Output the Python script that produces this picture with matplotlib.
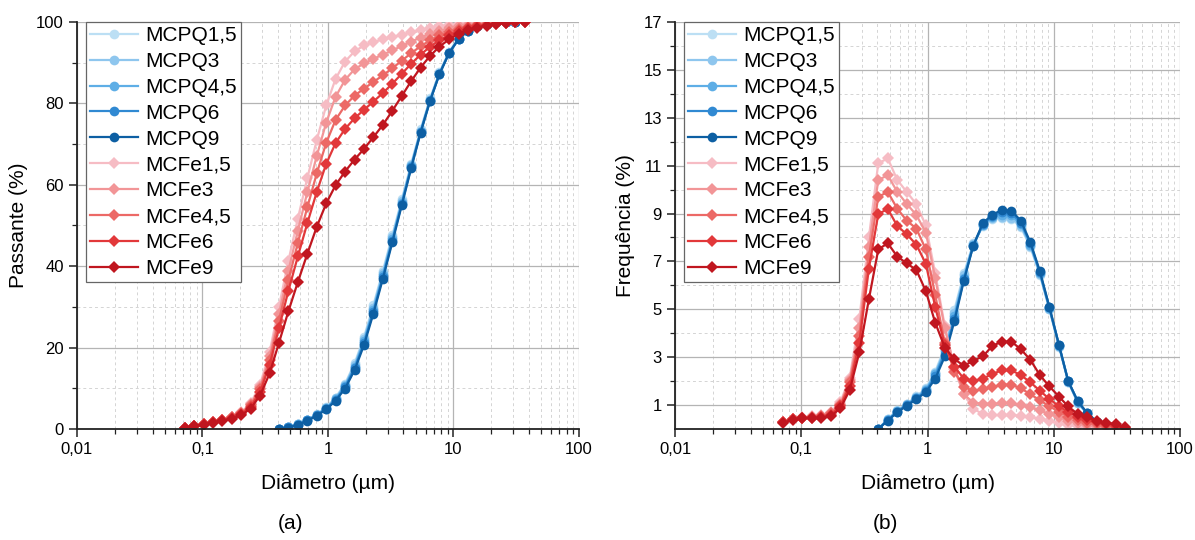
import numpy as np
import matplotlib
matplotlib.use("Agg")
import matplotlib.pyplot as plt
from matplotlib.ticker import FixedLocator, FuncFormatter, LogLocator, NullFormatter, MultipleLocator

plt.rcParams['font.family'] = ['Liberation Sans', 'DejaVu Sans']

# particle diameter classes (um)
diam = [0.072, 0.0856, 0.102, 0.121, 0.144, 0.171, 0.204, 0.242, 0.288, 0.343,
        0.407, 0.484, 0.576, 0.685, 0.815, 0.969, 1.15, 1.37, 1.63, 1.94,
        2.30, 2.74, 3.26, 3.88, 4.61, 5.48, 6.52, 7.75, 9.22, 11.0,
        13.0, 15.5, 18.4, 21.9, 26.1, 31.0, 36.9]
diam_q = diam[10:36]

labels_q = ['MCPQ1,5', 'MCPQ3', 'MCPQ4,5', 'MCPQ6', 'MCPQ9']
labels_fe = ['MCFe1,5', 'MCFe3', 'MCFe4,5', 'MCFe6', 'MCFe9']
colors_q = ['#bcdff4', '#8ec6ee', '#5eaee6', '#3089d2', '#0d5fa3']
colors_fe = ['#f6bcc4', '#f29597', '#ec6966', '#e2383a', '#c0161f']

# frequency (%) - quartz series
freq_q = [
    [0.0, 0.42, 0.78, 1.06, 1.36, 1.7, 2.4, 3.42, 4.98, 6.5, 7.75, 8.48, 8.75, 8.8, 8.78, 8.42, 7.6, 6.44, 5.0, 3.44, 1.96, 1.08, 0.62, 0.26, 0.0, 0.0],
    [0.0, 0.4, 0.76, 1.04, 1.33, 1.66, 2.33, 3.33, 4.85, 6.42, 7.72, 8.5, 8.8, 8.85, 8.82, 8.48, 7.65, 6.48, 5.02, 3.46, 1.98, 1.1, 0.64, 0.27, 0.1, 0.0],
    [0.0, 0.38, 0.74, 1.02, 1.3, 1.62, 2.28, 3.25, 4.72, 6.32, 7.68, 8.5, 8.85, 8.95, 8.92, 8.55, 7.7, 6.52, 5.05, 3.48, 2.0, 1.12, 0.65, 0.28, 0.1, 0.0],
    [0.0, 0.37, 0.72, 1.0, 1.28, 1.58, 2.2, 3.15, 4.6, 6.25, 7.65, 8.55, 8.9, 9.05, 9.02, 8.62, 7.75, 6.55, 5.08, 3.5, 2.0, 1.15, 0.65, 0.28, 0.1, 0.0],
    [0.0, 0.35, 0.7, 0.97, 1.25, 1.53, 2.1, 3.03, 4.5, 6.2, 7.65, 8.6, 8.95, 9.15, 9.12, 8.7, 7.8, 6.6, 5.1, 3.5, 2.0, 1.15, 0.67, 0.3, 0.08, 0.0],
]

# passing (%) - quartz series
pass_q = [
    [0, 0.42, 1.20, 2.26, 3.62, 5.32, 7.72, 11.14, 16.12, 22.62, 30.37, 38.85, 47.60, 56.40, 65.18, 73.60, 81.20, 87.64, 92.64, 96.08, 98.04, 99.12, 99.74, 100.0, 100.0, 100.0],
    [0, 0.40, 1.16, 2.20, 3.53, 5.19, 7.52, 10.85, 15.70, 22.12, 29.84, 38.34, 47.14, 55.99, 64.81, 73.29, 80.94, 87.42, 92.44, 95.90, 97.88, 98.98, 99.62, 99.89, 99.99, 100.0],
    [0, 0.38, 1.12, 2.14, 3.44, 5.06, 7.34, 10.59, 15.31, 21.63, 29.31, 37.81, 46.66, 55.61, 64.53, 73.08, 80.78, 87.30, 92.35, 95.83, 97.83, 98.95, 99.60, 99.88, 99.98, 100.0],
    [0, 0.37, 1.09, 2.09, 3.37, 4.95, 7.15, 10.30, 14.90, 21.15, 28.80, 37.35, 46.25, 55.30, 64.32, 72.94, 80.69, 87.24, 92.32, 95.82, 97.82, 98.97, 99.62, 99.90, 100.0, 100.0],
    [0, 0.35, 1.05, 2.02, 3.27, 4.80, 6.90, 9.93, 14.43, 20.63, 28.28, 36.88, 45.83, 54.98, 64.10, 72.80, 80.60, 87.20, 92.30, 95.80, 97.80, 98.95, 99.62, 99.92, 100.0, 100.0],
]

# frequency (%) - iron ore series
freq_fe = [
    [0.3, 0.42, 0.48, 0.53, 0.57, 0.72, 1.12, 2.15, 4.6, 8.0, 11.1, 11.3, 10.4, 9.9, 9.39, 8.5, 6.5, 4.3, 2.5, 1.45,
     0.85, 0.62, 0.58, 0.58, 0.58, 0.55, 0.5, 0.42, 0.34, 0.26, 0.18, 0.12, 0.08, 0.05, 0.03, 0.02, 0.01],
    [0.3, 0.42, 0.47, 0.52, 0.55, 0.68, 1.05, 2.05, 4.2, 7.6, 10.4, 10.6, 9.9, 9.4, 8.94, 8.2, 6.3, 4.2, 2.6, 1.45,
     1.1, 1.05, 1.05, 1.07, 1.07, 1.0, 0.9, 0.78, 0.62, 0.48, 0.35, 0.25, 0.18, 0.12, 0.08, 0.05, 0.02],
    [0.3, 0.42, 0.47, 0.5, 0.53, 0.65, 1.0, 1.95, 3.9, 7.2, 9.7, 9.9, 9.2, 8.7, 8.37, 7.5, 5.6, 3.6, 2.4, 1.75,
     1.6, 1.65, 1.75, 1.85, 1.85, 1.7, 1.45, 1.2, 0.95, 0.72, 0.52, 0.38, 0.27, 0.2, 0.14, 0.09, 0.04],
    [0.28, 0.4, 0.45, 0.47, 0.5, 0.6, 0.95, 1.8, 3.6, 6.7, 8.98, 9.19, 8.48, 8.13, 7.7, 6.9, 5.1, 3.5, 2.6, 2.1,
     2.0, 2.1, 2.3, 2.45, 2.45, 2.25, 1.95, 1.6, 1.25, 0.95, 0.7, 0.5, 0.38, 0.28, 0.2, 0.14, 0.06],
    [0.26, 0.38, 0.45, 0.45, 0.45, 0.54, 0.86, 1.63, 3.2, 5.42, 7.5, 7.76, 7.2, 6.92, 6.64, 5.76, 4.44, 3.4, 2.92, 2.64,
     2.85, 3.03, 3.47, 3.65, 3.65, 3.33, 2.89, 2.25, 1.78, 1.35, 0.94, 0.62, 0.49, 0.35, 0.25, 0.21, 0.07],
]

# passing (%) - iron ore series
pass_fe = [
    [0.30, 0.72, 1.20, 1.73, 2.30, 3.02, 4.14, 6.29, 10.89, 18.89, 29.99, 41.29, 51.69, 61.59, 70.98, 79.48, 85.98, 90.28, 92.78, 94.23,
     95.08, 95.70, 96.28, 96.86, 97.44, 97.99, 98.49, 98.91, 99.25, 99.51, 99.69, 99.81, 99.89, 99.94, 99.97, 99.99, 100.0],
    [0.30, 0.72, 1.19, 1.71, 2.26, 2.94, 3.99, 6.04, 10.24, 17.84, 28.24, 38.84, 48.74, 58.14, 67.08, 75.28, 81.58, 85.78, 88.38, 89.83,
     90.93, 91.98, 93.03, 94.10, 95.17, 96.17, 97.07, 97.85, 98.47, 98.95, 99.30, 99.55, 99.73, 99.85, 99.93, 99.98, 100.0],
    [0.30, 0.72, 1.19, 1.69, 2.22, 2.87, 3.87, 5.82, 9.72, 16.92, 26.62, 36.52, 45.72, 54.42, 62.79, 70.29, 75.89, 79.49, 81.89, 83.64,
     85.24, 86.89, 88.64, 90.49, 92.34, 94.04, 95.49, 96.69, 97.64, 98.36, 98.88, 99.26, 99.53, 99.73, 99.87, 99.96, 100.0],
    [0.28, 0.68, 1.13, 1.60, 2.10, 2.70, 3.65, 5.45, 9.05, 15.75, 24.73, 33.92, 42.40, 50.53, 58.23, 65.13, 70.23, 73.73, 76.33, 78.43,
     80.43, 82.53, 84.83, 87.28, 89.73, 91.98, 93.93, 95.53, 96.78, 97.73, 98.43, 98.93, 99.31, 99.59, 99.79, 99.93, 100.0],
    [0.26, 0.64, 1.09, 1.54, 1.99, 2.53, 3.39, 5.02, 8.22, 13.64, 21.14, 28.90, 36.10, 43.02, 49.66, 55.42, 59.86, 63.26, 66.18, 68.82,
     71.67, 74.70, 78.17, 81.82, 85.47, 88.80, 91.69, 93.94, 95.72, 97.07, 98.01, 98.63, 99.12, 99.47, 99.72, 99.93, 100.0],
]


def comma_fmt(v, pos):
    s = '%g' % v
    return s.replace('.', ',')


def style_axes(ax):
    ax.set_xscale('log')
    ax.set_xlim(0.01, 100)
    ax.xaxis.set_major_locator(FixedLocator([0.01, 0.1, 1, 10, 100]))
    ax.xaxis.set_major_formatter(FuncFormatter(comma_fmt))
    ax.xaxis.set_minor_locator(LogLocator(base=10, subs=np.arange(2, 10)))
    ax.xaxis.set_minor_formatter(NullFormatter())
    ax.grid(True, which='major', color='#b4b4b4', lw=0.9)
    ax.grid(True, which='minor', color='#d4d4d4', lw=0.7, ls=(0, (3, 3)))
    ax.set_axisbelow(True)
    for s in ['top', 'right']:
        ax.spines[s].set_visible(False)
    for s in ['left', 'bottom']:
        ax.spines[s].set_color('#222222')
        ax.spines[s].set_linewidth(1.3)
    ax.tick_params(which='major', direction='out', length=6, width=1.1, labelsize=12, color='#222222')
    ax.tick_params(which='minor', direction='out', length=3.5, width=0.9, color='#222222')
    ax.set_xlabel('Diâmetro (µm)', fontsize=15, labelpad=12)


def draw_series(ax, q_data, fe_data):
    for i in range(5):
        ax.plot(diam_q, q_data[i], color=colors_q[i], marker='o', ms=7, mew=0,
                lw=1.6, label=labels_q[i])
    for i in range(5):
        ax.plot(diam, fe_data[i], color=colors_fe[i], marker='D', ms=6, mew=0,
                lw=1.6, label=labels_fe[i])
    leg = ax.legend(loc='upper left', fontsize=15, handlelength=2.3, handletextpad=0.35,
                    labelspacing=0.33, borderpad=0.2, borderaxespad=0.0,
                    bbox_to_anchor=(0.018, 1.0), fancybox=False, framealpha=1,
                    edgecolor='#666666')
    leg.get_frame().set_linewidth(0.9)


fig = plt.figure(figsize=(11.95, 5.4), dpi=100)

ax1 = fig.add_axes([0.0644, 0.2056, 0.420, 0.7537])
style_axes(ax1)
draw_series(ax1, pass_q, pass_fe)
ax1.set_ylim(0, 100)
ax1.yaxis.set_major_locator(MultipleLocator(20))
ax1.yaxis.set_minor_locator(MultipleLocator(10))
ax1.set_ylabel('Passante (%)', fontsize=15, labelpad=6)

ax2 = fig.add_axes([0.5649, 0.2056, 0.4226, 0.7537])
style_axes(ax2)
draw_series(ax2, freq_q, freq_fe)
ax2.set_ylim(0, 17)
ax2.yaxis.set_major_locator(FixedLocator([1, 3, 5, 7, 9, 11, 13, 15, 17]))
ax2.yaxis.set_minor_locator(FixedLocator([2, 4, 6, 8, 10, 12, 14, 16]))
ax2.set_ylabel('Frequência (%)', fontsize=15, labelpad=6)

fig.text(0.243, 0.02, '(a)', fontsize=15, ha='center')
fig.text(0.741, 0.02, '(b)', fontsize=15, ha='center')

fig.savefig('out.png', dpi=100)
